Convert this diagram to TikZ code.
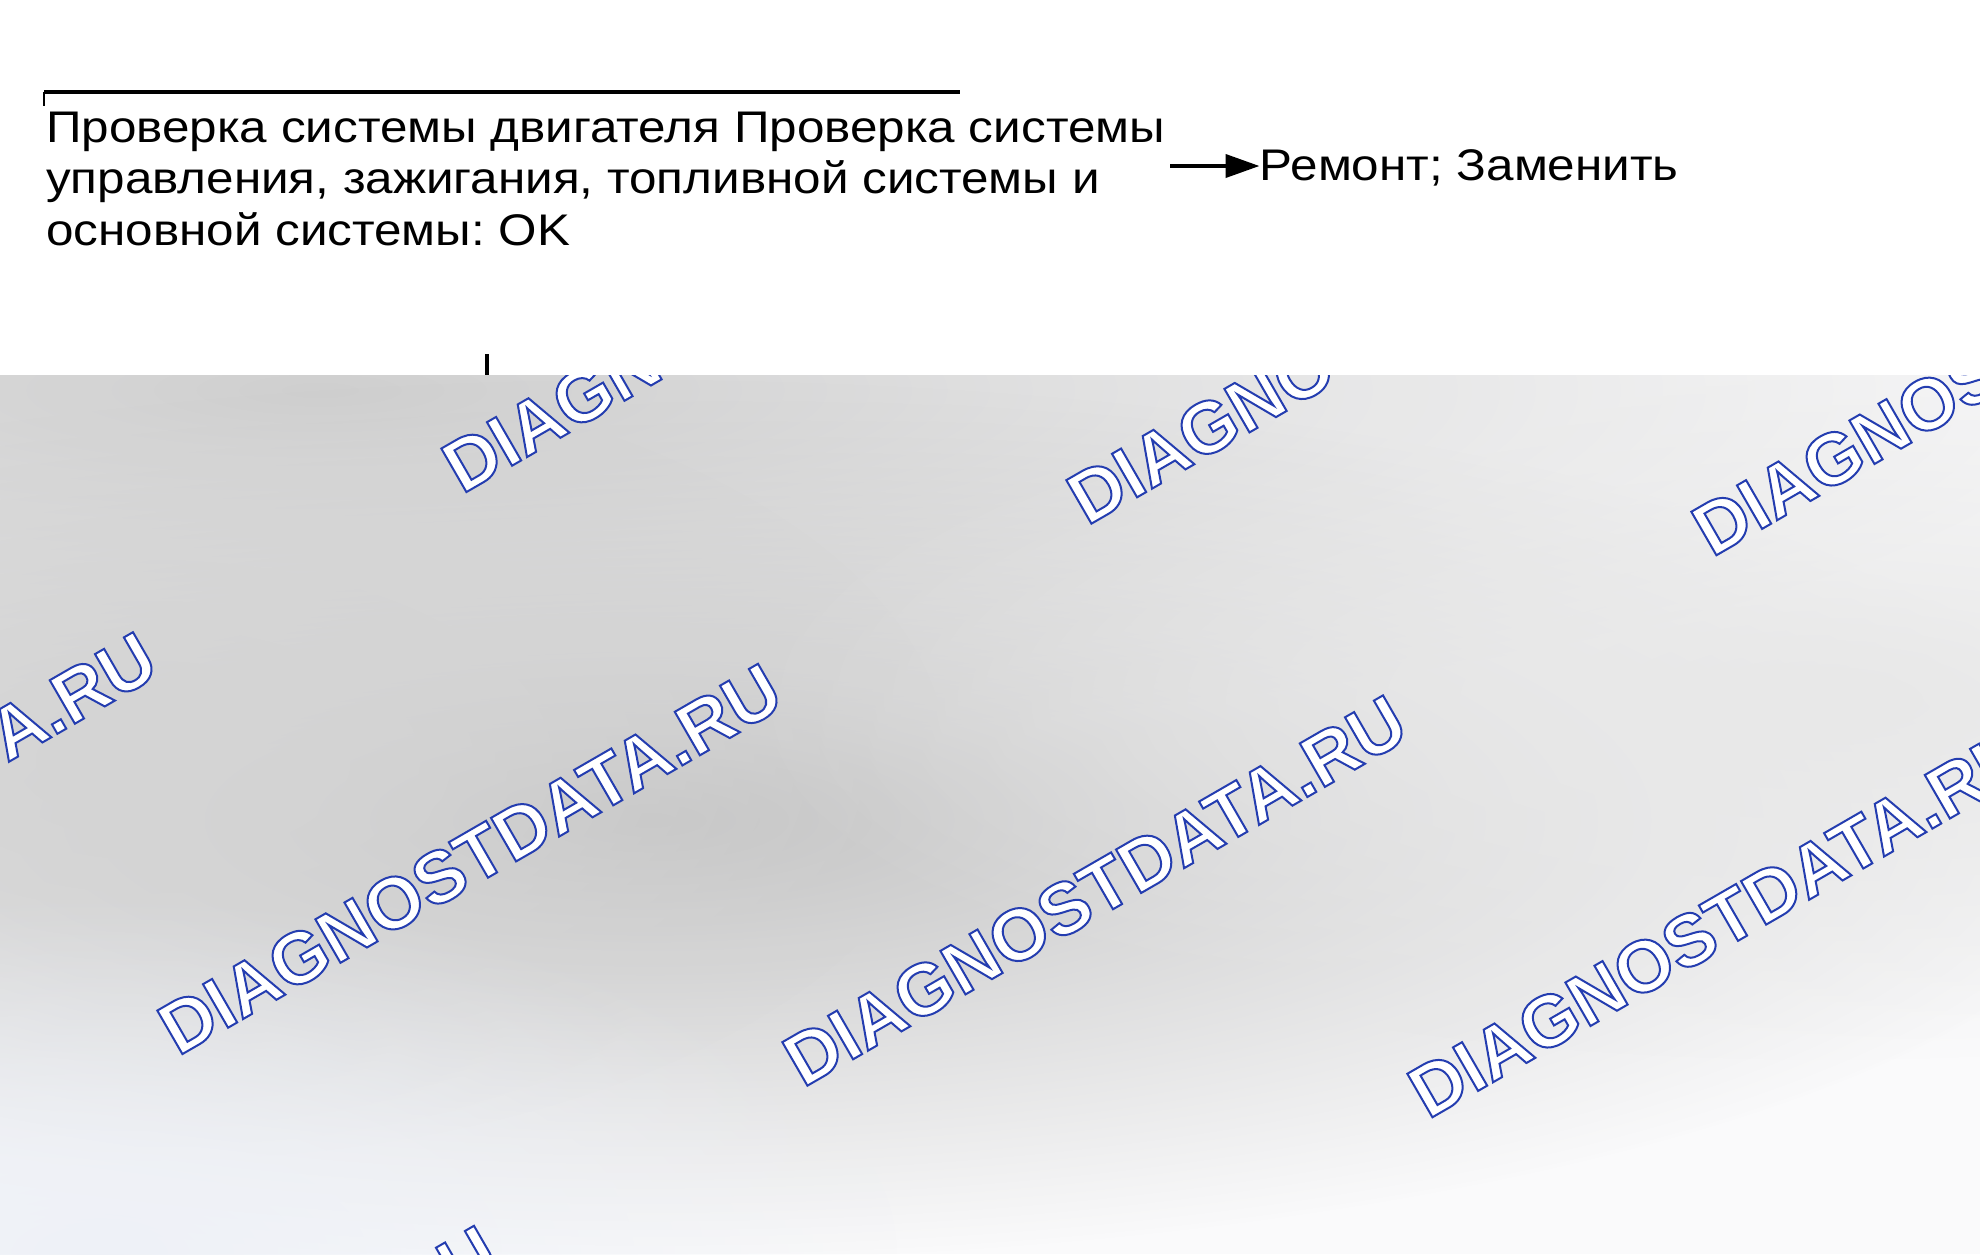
\documentclass[tikz,border=0pt]{standalone}
\usepackage{fontspec}
\setmainfont{Liberation Sans}[FakeStretch=1.115]
\newfontfamily\wmfont{Liberation Sans}[BoldFont={Liberation Sans Bold}]
\usetikzlibrary{arrows.meta,fadings}
\frenchspacing
\definecolor{bgbase}{RGB}{250,250,251}
\definecolor{gB}{RGB}{207,207,207}
\definecolor{gC}{RGB}{196,196,196}
\definecolor{gF}{RGB}{212,212,212}
\definecolor{gD}{RGB}{232,232,232}
\definecolor{gE}{RGB}{238,241,247}
\tikzfading[name=blob, inner color=transparent!0, outer color=transparent!100]
\newcommand\wmtext{\special{pdf:literal direct 2 Tr 2 w 0.14 0.24 0.69 RG}DIAGNOSTDATA.RU\special{pdf:literal direct 0 Tr}}
\begin{document}
\begin{tikzpicture}[x=1pt,y=1pt,
  maintext/.style={inner sep=0pt, align=left, font=\fontsize{44.3}{51.5}\selectfont},
  wmark/.style={rotate=30, inner sep=0pt, text=white, font=\wmfont\fontsize{73}{80}\selectfont\bfseries},
  rulebar/.style={line width=4.5pt},
  thinbar/.style={line width=1.5pt},
  conn/.style={line width=4pt, -{Triangle[length=34pt,width=23pt]}},
  blobfill/.style={path fading=blob}]
\useasboundingbox (0,0) rectangle (1980,-1254);
\fill[white] (0,0) rectangle (1980,-1254);
% shaded watermark area
\begin{scope}
\clip (0,-375) rectangle (1980,-1254);
\fill[bgbase] (0,-375) rectangle (1980,-1254);
\fill[gB, blobfill] (320,-390) ellipse (1800 and 360);
\fill[gC, blobfill] (650,-820) ellipse (1500 and 440);
\fill[gF, blobfill] (150,-760) ellipse (800 and 400);
\fill[gD, blobfill] (1830,-700) ellipse (1100 and 360);
\fill[gE, blobfill] (100,-1254) ellipse (800 and 360);
\foreach \r in {0,...,4}{
  \foreach \c in {-1,...,4}{
    \node[wmark] (wm-\r-\c) at ({470+(\c-1)*625+(\r-2)*(-284)},{-859-(\c-1)*31.6-(\r-2)*562}) {\wmtext};
  }
}
\end{scope}
% top rule and ticks
\coordinate (t0) at (44,-92);
\coordinate (t1) at (960,-92);
\coordinate (t2) at (44,-106);
\draw[rulebar] (t0) -- (t1);
\draw[thinbar] (t0) -- (t2);
\coordinate (v0) at (487,-354);
\coordinate (v1) at (487,-375);
\draw[line width=3.5pt] (v0) -- (v1);
% text
\node[maintext, anchor=north west] (chk) at (46,-102) {\rule{0pt}{40pt}Проверка системы двигателя Проверка системы\\управления, зажигания, топливной системы и\\основной системы: OK};
\node[maintext, anchor=base west] (r) at (1259.5,-180) {Ремонт; Заменить};
\coordinate (a0) at (1170,-166);
\draw[conn] (a0) -- (a0 -| r.west);
\end{tikzpicture}
\end{document}
